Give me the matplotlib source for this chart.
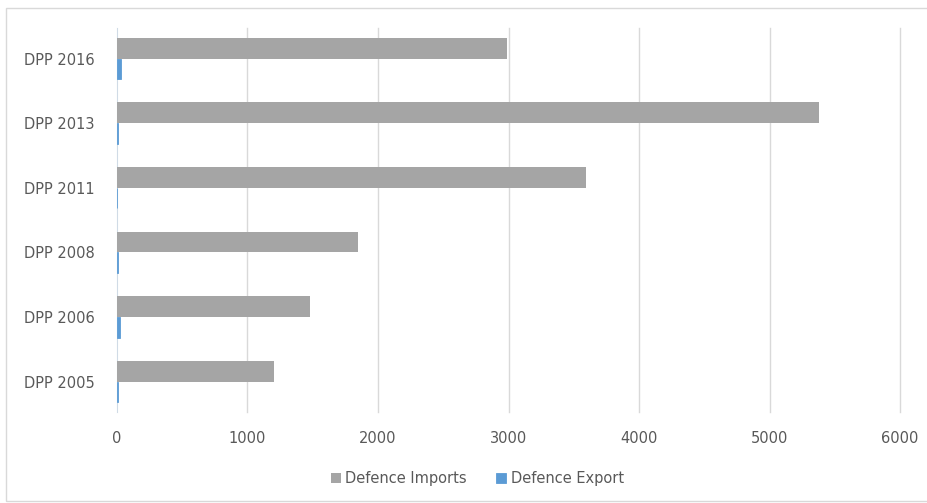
import numpy as np
import matplotlib.pyplot as plt
from matplotlib.patches import Rectangle

# Values
categories = ['DPP 2005', 'DPP 2006', 'DPP 2008', 'DPP 2011', 'DPP 2013', 'DPP 2016']
imports = [1205, 1480, 1850, 3590, 5375, 2985]
exports = [5, 25, 5, 0, 8, 35]
x_ticks = [0, 1000, 2000, 3000, 4000, 5000, 6000]

fig = plt.figure(figsize=(9.28, 5.03), dpi=100)
ax = fig.add_axes([0.126, 0.181, 0.844, 0.763])

# light frame round the chart
fig.patches.append(Rectangle((0.006, 0.004), 1.2, 0.98, transform=fig.transFigure,
                             fill=False, edgecolor='#d9d9d9', linewidth=1))

y = np.arange(len(categories))
h = 0.32
ax.barh(y + h / 2, imports, height=h, color='#a5a5a5', label='Defence Imports', zorder=3)
ax.barh(y - h / 2, exports, height=h, color='#5b9bd5', edgecolor='#5b9bd5',
        linewidth=0.6, label='Defence Export', zorder=3)

ax.set_xlim(0, 6000)
ax.set_ylim(-0.47, 5.47)
ax.set_xticks(x_ticks)
ax.set_yticks(y)
ax.set_yticklabels(categories)
ax.tick_params(axis='both', length=0, labelsize=10.5, labelcolor='#595959')
ax.tick_params(axis='x', pad=14)
ax.tick_params(axis='y', pad=16)
for xt in x_ticks[1:]:
    ax.axvline(xt, color='#d9d9d9', linewidth=1, zorder=0, clip_on=False)
for s in ['top', 'right', 'bottom']:
    ax.spines[s].set_visible(False)
ax.spines['left'].set_color('#d0dbe6')

ax.legend(loc='upper center', bbox_to_anchor=(0.46, -0.12), ncol=2, frameon=False,
          fontsize=10.5, labelcolor='#595959', handlelength=0.7, handleheight=0.7,
          handletextpad=0.3, columnspacing=2.0)

fig.savefig('out.png', dpi=100)
